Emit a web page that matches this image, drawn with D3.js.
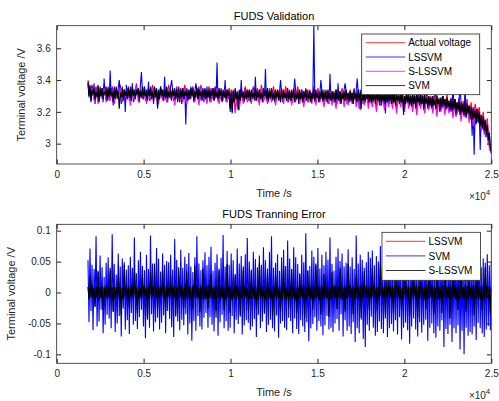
<!DOCTYPE html>
<html>
<head>
<meta charset="utf-8">
<script src="https://cdn.jsdelivr.net/npm/d3@7"></script>
<style>
  body { margin: 0; background: #fff; }
  svg text { font-family: "Liberation Sans", Arial, Helvetica, sans-serif; }
</style>
</head>
<body>
<svg id="chart" width="499" height="401"></svg>
<script>
// ---- Data -----------------------------------------------------------------
// Samples are evenly spaced between these times (s)
const tStart = 1800;
const tEnd = 25000;

const xTicks = [0, 5000, 10000, 15000, 20000, 25000];
const topYTicks = [3, 3.2, 3.4, 3.6];
const botYTicks = [-0.1, -0.05, 0, 0.05, 0.1];

// FUDS validation: terminal voltage (centivolts)
const actualVoltageCv = [
  340,332,337,330,336,328,335,331,337,329, 335,330,336,328,335,331,337,329,334,330,
  336,327,335,330,338,329,334,331,336,328, 335,330,337,331,334,328,336,330,335,329,
  337,331,334,327,336,330,335,329,337,328, 334,331,336,329,335,327,337,330,334,328,
  336,329,335,331,337,328,334,330,336,329, 335,327,334,321,333,323,335,328,336,329,
  334,328,336,330,335,327,337,329,334,328, 335,329,336,327,334,330,335,328,336,329,
  334,327,335,329,336,328,334,326,335,329, 334,328,336,327,335,329,333,326,334,328,
  335,327,333,325,334,328,335,326,333,327, 334,328,335,326,333,324,334,327,335,325,
  333,326,334,323,333,327,332,324,334,326, 332,325,333,322,332,326,331,323,333,325,
  331,323,332,321,330,325,331,322,332,324, 330,322,331,320,329,323,330,321,331,322,
  329,319,328,321,329,317,327,320,328,316, 326,314,325,317,323,311,320,307,316,300,
  296
];
const lssvmVoltageCv = [
  339,329,337,326,336,330,338,325,334,331,337,327,336,329,335,326,341,330,334,328,
  336,327,346,329,335,324,336,330,334,328,335,340,333,325,336,329,334,320,337,328,
  335,327,336,328,338,326,334,329,336,330,334,326,337,345,333,328,336,327,334,329,
  339,327,336,329,334,325,336,330,335,322,334,328,336,329,333,327,342,328,335,326,
  334,329,336,340,333,327,335,328,334,326,336,329,333,325,335,328,334,312,335,327,
  334,328,336,329,335,326,333,338,334,328,336,327,333,329,335,326,334,328,336,329,
  333,326,335,328,334,327,336,329,351,326,334,328,335,327,333,329,340,326,334,328,
  333,320,334,319,332,326,335,327,333,322,334,328,340,327,333,326,335,328,333,327,
  334,326,333,328,335,327,342,328,333,326,334,329,332,326,335,328,347,327,334,326,
  333,328,335,327,334,326,332,328,334,327,333,340,332,326,334,328,333,327,335,326,
  333,327,334,326,332,341,333,328,334,325,332,327,334,328,333,326,332,328,334,326,
  333,327,332,328,375,326,334,328,333,327,332,340,333,326,334,327,332,328,333,325,
  344,327,333,326,332,328,334,325,338,327,333,326,332,328,334,338,333,325,332,327,
  333,326,332,325,334,327,333,341,332,322,334,327,332,325,333,326,332,328,334,326,
  332,325,333,326,331,338,332,327,333,324,332,326,331,325,333,319,332,326,331,325,
  332,325,340,326,331,324,332,327,330,325,332,326,331,318,330,325,332,337,331,324,
  330,323,331,325,330,322,331,326,336,324,331,325,330,321,331,338,329,322,330,323,
  329,322,330,324,328,335,330,324,328,320,329,322,330,323,328,321,329,322,327,320,
  328,320,338,321,328,317,326,320,327,336,326,319,325,317,337,316,325,318,324,315,
  322,305,323,293,321,312,322,313,320,296,318,309,317,306,315,304,312,300,307,296,
  294
];
const slssvmVoltageCv = [
  337,330,335,327,334,325,333,328,335,326, 332,327,334,325,333,329,335,326,332,328,
  334,324,333,327,336,326,332,328,334,325, 333,327,335,328,332,325,334,327,333,326,
  335,328,332,324,334,327,333,326,335,325, 332,328,334,326,333,324,335,327,332,325,
  334,326,333,328,335,325,332,327,334,326, 333,324,332,319,331,321,333,325,334,326,
  332,325,334,327,333,324,335,326,332,325, 333,326,334,324,332,327,333,325,334,326,
  332,324,333,326,334,325,332,323,333,326, 332,325,334,324,333,326,331,323,332,325,
  333,324,331,322,332,325,333,323,331,324, 332,325,333,323,331,321,332,324,333,322,
  331,323,332,320,331,324,330,321,332,323, 330,322,331,319,330,323,329,320,331,322,
  329,320,330,318,328,322,329,319,330,321, 328,319,329,317,327,320,328,318,329,319,
  327,316,326,318,327,314,325,317,326,313, 324,311,323,314,321,308,318,304,314,297,
  294
];
const svmVoltageCv = [
  338,330,336,327,334,331,335,328,333,329,336,326,334,330,335,328,333,331,336,327,
  334,329,335,330,333,326,334,328,336,329,333,322,332,329,335,327,334,330,333,328,
  335,329,334,327,336,330,333,328,334,331,335,327,333,329,336,328,334,330,332,327,
  334,330,335,328,333,327,335,329,334,323,333,328,335,330,334,327,333,329,336,328,
  333,329,334,327,335,330,333,328,334,329,332,326,334,329,335,328,333,330,334,327,
  333,328,335,330,334,327,333,329,335,328,334,330,333,327,334,329,335,328,333,329,
  334,328,333,330,335,327,334,329,333,328,335,330,333,326,334,329,333,328,334,330,
  333,322,332,320,333,326,334,328,332,321,333,327,334,329,332,327,333,328,334,329,
  333,327,334,329,332,328,335,327,333,329,334,328,332,327,334,330,333,328,335,327,
  333,329,334,328,332,327,334,329,333,328,332,326,334,328,333,329,332,327,334,328,
  332,327,333,329,334,326,332,328,333,327,334,328,332,326,333,329,334,327,332,328,
  333,326,332,328,334,327,333,329,332,326,333,328,334,327,332,328,333,326,334,328,
  332,327,333,328,332,326,334,328,332,327,333,325,332,328,333,327,334,328,332,326,
  333,327,332,325,333,328,332,326,334,327,332,322,331,327,333,326,332,328,333,326,
  332,326,331,327,333,325,332,327,331,326,333,324,332,327,331,325,332,326,333,327,
  331,325,332,326,331,324,332,327,330,325,332,326,331,320,330,325,332,326,331,324,
  330,324,331,325,330,323,331,326,329,324,331,325,330,322,331,325,329,323,330,324,
  329,323,330,324,328,322,330,325,328,321,329,323,330,324,328,322,329,323,327,321,
  328,321,327,322,328,319,326,321,327,318,326,320,325,318,326,317,325,319,324,316,
  323,315,322,316,321,313,322,314,320,311,318,310,317,308,315,306,312,302,307,298,
  295
];

// FUDS training error (mV)
const lssvmErrorMv = [
  6,-5,8,-7,5,-6,9,-8,6,-5, 7,-6,5,-8,8,-7,6,-5,9,-6,
  5,-7,8,-6,7,-9,6,-5,8,-7, 6,-8,5,-6,9,-7,7,-5,6,-8,
  8,-6,7,-5,5,-9,6,-7,8,-6, 7,-5,9,-6,6,-8,5,-7,7,-6,
  8,-7,6,-5,5,-8,9,-6,7,-5, 6,-9,8,-7,5,-6,7,-8,6,-5,
  9,-6,5,-7,8,-5,6,-9,7,-6, 5,-8,7,-6,9,-7,6,-5,8,-7,
  6
];
const svmErrorMv = [
  52,-48,71,-30,45,-61,38,-22,91,-55,33,-47,60,-28,41,-66,25,-52,48,-36,
  57,-42,35,-58,94,-31,46,-64,29,-50,63,-38,42,-71,55,-26,49,-60,37,-45,
  44,-67,58,-33,40,-52,89,-46,31,-59,52,-40,66,-28,43,-55,36,-74,61,-44,
  38,-57,92,-35,47,-63,30,-48,72,-41,55,-60,34,-49,63,-37,45,-66,51,-30,
  49,-43,61,-56,37,-72,87,-39,53,-47,28,-61,69,-44,40,-53,58,-35,46,-68,
  64,-50,42,-78,33,-46,57,-62,91,-38,47,-55,36,-60,52,-41,65,-33,44,-57,
  58,-40,74,-52,35,-63,48,-29,62,-70,39,-48,56,-36,93,-58,42,-46,67,-62,
  45,-57,63,-38,52,-66,30,-44,71,-51,47,-39,59,-68,36,-53,62,-45,88,-49,
  50,-61,37,-55,66,-43,54,-72,41,-36,60,-58,45,-47,73,-34,52,-64,39,-52,
  66,-44,91,-58,40,-63,48,-37,62,-73,35,-50,57,-46,69,-57,43,-61,84,-41,
  55,-46,38,-66,73,-42,57,-59,46,-67,31,-45,61,-55,49,-64,96,-48,36,-79,
  43,-58,68,-51,58,-40,47,-62,72,-46,39,-55,61,-69,44,-53,66,-38,53,-60,
  89,-57,46,-64,35,-50,58,-43,71,-62,51,-35,63,-71,42,-45,48,-62,70,-55,
  42,-67,57,-48,38,-80,92,-58,47,-66,61,-44,53,-75,40,-88,49,-52,66,-62,
  56,-39,68,-57,44,-70,59,-64,50,-47,75,-59,41,-66,54,-42,63,-72,46,-58,
  71,-51,38,-63,57,-45,49,-68,62,-40,52,-76,45,-57,67,-49,36,-61,58,-83,
  47,-55,64,-42,78,-60,43,-71,55,-48,61,-65,39,-52,70,-44,51,-78,63,-57,
  92,-50,45,-66,58,-73,40,-55,66,-62,48,-45,73,-88,54,-59,42,-67,61,-52,
  57,-80,49,-58,84,-66,61,-53,75,-92,44,-62,56,-100,68,-57,41,-70,59,-64,
  50,-68,63,-55,45,-77,60,-49,72,-58,41,-66,55,-72,48,-60,62,-54,44,-61,
  50
];
const slssvmErrorMv = [
  9,-11,26,-8,12,-10,7,-24,10,-9,35,-12,8,-10,11,-28,9,-7,12,-10,
  10,-9,40,-11,8,-31,12,-10,9,-8,27,-12,10,-36,8,-11,45,-9,11,-10,
  8,-26,11,-9,12,-10,38,-8,9,-33,10,-12,8,-11,30,-9,12,-10,9,-40,
  11,-8,33,-12,10,-9,47,-11,8,-27,12,-10,9,-8,36,-11,10,-30,12,-9,
  8,-11,29,-10,12,-9,10,-37,9,-12,41,-8,11,-10,8,-25,12,-11,34,-9,
  10,-12,9,-28,11,-8,44,-10,12,-9,8,-32,10,-11,39,-12,9,-10,11,-26,
  12,-9,30,-11,8,-10,10,-41,11,-8,36,-12,9,-10,12,-29,8,-11,46,-9,
  10,-33,11,-12,9,-8,28,-10,12,-11,8,-37,10,-9,42,-12,11,-8,9,-30,
  12,-10,35,-9,8,-11,10,-27,11,-12,48,-8,9,-10,12,-34,10,-11,31,-9,
  8,-12,11,-39,10,-9,27,-11,12,-8,9,-31,10,-12,43,-10,8,-11,12,-26,
  11,-9,37,-10,8,-12,10,-33,9,-11,29,-8,12,-10,11,-42,9,-12,35,-8,
  10,-11,12,-28,9,-10,45,-9,11,-12,8,-36,10,-11,30,-9,12,-10,8,-39,
  9,-12,33,-8,11,-10,12,-27,10,-9,40,-11,8,-12,9,-31,11,-10,46,-8,
  12,-9,10,-35,8,-11,28,-12,9,-10,11,-41,12,-8,34,-11,10,-9,8,-29,
  11,-10,39,-9,12,-12,8,-30,10,-11,47,-8,9,-10,12,-37,11,-9,26,-12,
  8,-11,12,-33,10,-9,36,-10,11,-12,9,-28,8,-11,43,-10,12,-9,10,-38,
  9,-12,30,-8,11,-10,12,-40,10,-9,34,-11,8,-12,9,-27,11,-10,45,-9,
  12,-9,11,-35,8,-11,29,-12,10,-10,9,-33,12,-8,38,-11,10,-9,11,-42,
  10,-11,36,-9,12,-12,8,-28,11,-10,44,-9,9,-11,12,-31,10,-12,27,-8,
  9,-10,12,-37,11,-9,33,-11,8,-12,10,-30,12,-10,41,-9,11,-12,9,-34,
  10
];

// ---- Drawing --------------------------------------------------------------
const svg = d3.select("#chart");
const axisColor = "#262626";
const left = 56.7, right = 491.3;

const x = d3.scaleLinear().domain([0, 25000]).range([left, right]);

// sample index -> time for a series of n points
function timeOf(i, n) {
  return tStart + i * (tEnd - tStart) / (n - 1);
}

function drawPanel(cfg) {
  const { top, bottom, yDomain, yTicks, yFmt, title, series, legend, id } = cfg;
  const y = d3.scaleLinear().domain(yDomain).range([bottom, top]);
  const g = svg.append("g");

  g.append("clipPath").attr("id", id)
    .append("rect").attr("x", left).attr("y", top)
    .attr("width", right - left).attr("height", bottom - top);

  const plot = g.append("g").attr("clip-path", `url(#${id})`);
  series.forEach(s => {
    const n = s.values.length;
    const line = d3.line()
      .x((d, i) => x(timeOf(i, n)))
      .y(d => y(d * s.unit));
    plot.append("path")
      .datum(s.values)
      .attr("d", line)
      .attr("fill", "none")
      .attr("stroke", s.color)
      .attr("stroke-width", 1.1)
      .attr("stroke-linejoin", "bevel");
  });

  // axes with inward ticks
  const styleAxis = sel => {
    sel.select(".domain").remove();
    sel.selectAll(".tick line").attr("stroke", axisColor);
    sel.selectAll(".tick text").attr("fill", axisColor).attr("font-size", 10)
      .attr("font-family", "'Liberation Sans', Arial, sans-serif");
  };
  g.append("g").attr("transform", `translate(0,${bottom})`)
    .call(d3.axisBottom(x).tickValues(xTicks).tickSize(-4.5).tickPadding(7)
      .tickFormat(d => d3.format("")(d / 1e4)))
    .call(styleAxis);
  g.append("g").attr("transform", `translate(0,${top})`)
    .call(d3.axisTop(x).tickValues(xTicks).tickSize(-4.5).tickFormat(""))
    .call(styleAxis);
  g.append("g").attr("transform", `translate(${left},0)`)
    .call(d3.axisLeft(y).tickValues(yTicks).tickSize(-4.5).tickPadding(6).tickFormat(yFmt))
    .call(styleAxis);
  g.append("g").attr("transform", `translate(${right},0)`)
    .call(d3.axisRight(y).tickValues(yTicks).tickSize(-4.5).tickFormat(""))
    .call(styleAxis);

  g.append("rect")
    .attr("x", left).attr("y", top)
    .attr("width", right - left).attr("height", bottom - top)
    .attr("fill", "none").attr("stroke", axisColor).attr("stroke-width", 0.8);

  // title and labels
  g.append("text").attr("x", 274).attr("y", top - 6)
    .attr("text-anchor", "middle").attr("font-size", 11).attr("fill", "#000")
    .text(title);
  g.append("text").attr("x", 274).attr("y", bottom + 33)
    .attr("text-anchor", "middle").attr("font-size", 11).attr("fill", axisColor)
    .text("Time /s");
  const ex = g.append("text").attr("x", right - 1).attr("y", bottom + 36)
    .attr("text-anchor", "end").attr("font-size", 10).attr("fill", axisColor);
  ex.append("tspan").text("×10");
  ex.append("tspan").attr("dy", -5).attr("font-size", 8).text("4");

  g.append("text")
    .attr("transform", `translate(${cfg.yLabelX},${(top + bottom) / 2}) rotate(-90)`)
    .attr("text-anchor", "middle").attr("font-size", 11).attr("fill", axisColor)
    .text("Terminal voltage /V");

  // legend
  const lg = g.append("g");
  lg.append("rect").attr("x", legend.x).attr("y", legend.y)
    .attr("width", legend.w).attr("height", legend.h)
    .attr("fill", "#fff").attr("stroke", axisColor).attr("stroke-width", 0.8);
  legend.items.forEach((it, i) => {
    const cy = legend.y + legend.first + i * legend.step;
    lg.append("line")
      .attr("x1", legend.x + 4).attr("x2", legend.x + 43.5)
      .attr("y1", cy).attr("y2", cy)
      .attr("stroke", it.color).attr("stroke-width", 0.8);
    lg.append("text").attr("x", legend.x + 46.5).attr("y", cy + 3.6)
      .attr("font-size", 10).attr("fill", "#000").text(it.label);
  });
}

drawPanel({
  id: "clipTop",
  top: 25.7, bottom: 164,
  yDomain: [2.872, 3.742],
  yTicks: topYTicks,
  yFmt: d3.format(""),
  yLabelX: 25,
  title: "FUDS Validation",
  series: [
    { values: actualVoltageCv, color: "#ff0000", unit: 0.01 },
    { values: lssvmVoltageCv, color: "#0000ff", unit: 0.01 },
    { values: slssvmVoltageCv, color: "#ff00ff", unit: 0.01 },
    { values: svmVoltageCv, color: "#000000", unit: 0.01 }
  ],
  legend: {
    x: 361.7, y: 34, w: 118, h: 60.7, first: 8.7, step: 14.3,
    items: [
      { label: "Actual voltage", color: "#ff0000" },
      { label: "LSSVM", color: "#0000ff" },
      { label: "S-LSSVM", color: "#ff00ff" },
      { label: "SVM", color: "#000000" }
    ]
  }
});

drawPanel({
  id: "clipBottom",
  top: 224.3, bottom: 363.3,
  yDomain: [-0.1145, 0.1103],
  yTicks: botYTicks,
  yFmt: d => (d === 0 ? "0" : String(+d.toFixed(2))),
  yLabelX: 15,
  title: "FUDS Tranning Error",
  series: [
    { values: lssvmErrorMv, color: "#ff0000", unit: 0.001 },
    { values: svmErrorMv, color: "#0000ff", unit: 0.001 },
    { values: slssvmErrorMv, color: "#000000", unit: 0.001 }
  ],
  legend: {
    x: 382, y: 232.3, w: 98.5, h: 48, first: 9, step: 14.6,
    items: [
      { label: "LSSVM", color: "#ff0000" },
      { label: "SVM", color: "#0000ff" },
      { label: "S-LSSVM", color: "#000000" }
    ]
  }
});
</script>
</body>
</html>
